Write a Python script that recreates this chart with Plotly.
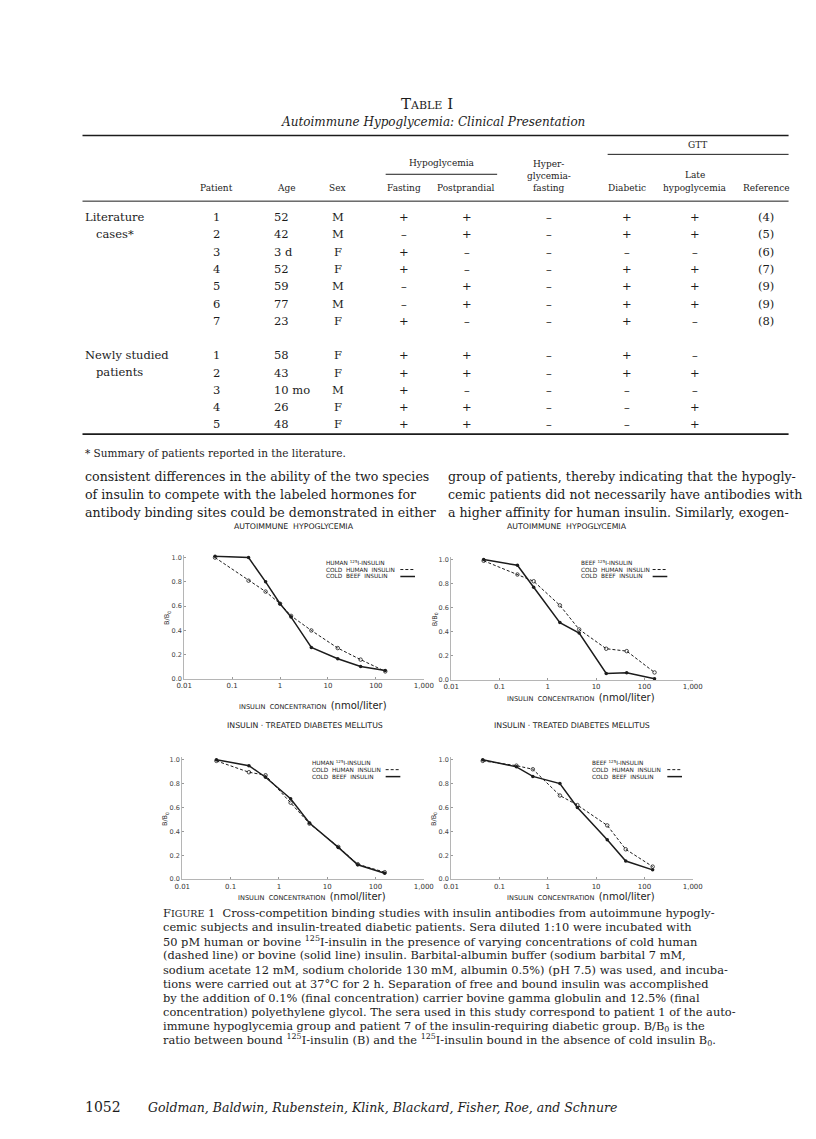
import plotly.graph_objects as go

W, H = 816, 1139
SERIF = "DejaVu Serif"
SANS = "DejaVu Sans"
INK = "#1c1c1c"

# ---- Table I ----
LIT_PATIENT = ["1", "2", "3", "4", "5", "6", "7"]
LIT_AGE = ["52", "42", "3 d", "52", "59", "77", "23"]
LIT_SEX = ["M", "M", "F", "F", "M", "M", "F"]
LIT_FASTING = ["+", "–", "+", "+", "–", "–", "+"]
LIT_POSTPRANDIAL = ["+", "+", "–", "–", "+", "+", "–"]
LIT_HYPER = ["–", "–", "–", "–", "–", "–", "–"]
LIT_DIABETIC = ["+", "+", "–", "+", "+", "+", "+"]
LIT_LATE = ["+", "+", "–", "+", "+", "+", "–"]
LIT_REF = ["(4)", "(5)", "(6)", "(7)", "(9)", "(9)", "(8)"]

NEW_PATIENT = ["1", "2", "3", "4", "5"]
NEW_AGE = ["58", "43", "10 mo", "26", "48"]
NEW_SEX = ["F", "F", "M", "F", "F"]
NEW_FASTING = ["+", "+", "+", "+", "+"]
NEW_POSTPRANDIAL = ["+", "+", "–", "+", "+"]
NEW_HYPER = ["–", "–", "–", "–", "–"]
NEW_DIABETIC = ["+", "+", "–", "–", "–"]
NEW_LATE = ["–", "+", "–", "+", "+"]
NEW_REF = [None, None, None, None, None]

# ---- Figure 1: B/B0 vs insulin concentration (nmol/liter) ----
CONC_AH_HUMAN = [0.044, 0.22, 0.5, 1.0, 1.7, 4.5, 16, 48, 157]
AH_HUMAN_COLD_HUMAN = [1.0, 0.81, 0.72, 0.62, 0.52, 0.40, 0.255, 0.16, 0.063]
AH_HUMAN_COLD_BEEF = [1.01, 1.0, 0.80, 0.62, 0.51, 0.26, 0.167, 0.104, 0.071]

CONC_AH_BEEF = [0.047, 0.235, 0.51, 1.78, 4.46, 16.2, 43, 162]
AH_BEEF_COLD_HUMAN = [0.99, 0.876, 0.82, 0.62, 0.42, 0.26, 0.24, 0.063]
AH_BEEF_COLD_BEEF = [1.0, 0.953, 0.77, 0.477, 0.39, 0.055, 0.06, 0.01]

CONC_DM_HUMAN = [0.051, 0.24, 0.53, 1.75, 4.3, 17, 43, 155]
DM_HUMAN_COLD_HUMAN = [0.99, 0.895, 0.87, 0.64, 0.465, 0.27, 0.125, 0.058]
DM_HUMAN_COLD_BEEF = [1.0, 0.95, 0.853, 0.673, 0.47, 0.266, 0.12, 0.05]

CONC_DM_BEEF = [0.045, 0.224, 0.49, 1.78, 4.1, 17, 41, 148]
DM_BEEF_COLD_HUMAN = [0.99, 0.95, 0.92, 0.70, 0.62, 0.45, 0.25, 0.105]
DM_BEEF_COLD_BEEF = [1.0, 0.94, 0.86, 0.80, 0.60, 0.33, 0.152, 0.078]

X_TICKS = [0.01, 0.1, 1, 10, 100, 1000]
X_TICKTEXT = ["0.01", "0.1", "1", "10", "100", "1,000"]


def px(x):
    return x / W


def py(y):
    return 1 - y / H


fig = go.Figure()


def text(x, y, s, size, anchor="left", family=SERIF, color=INK, angle=0):
    if not s:
        return
    fig.add_annotation(x=px(x), y=py(y), xref="paper", yref="paper", text=s,
                       showarrow=False, xanchor=anchor, yanchor="middle",
                       textangle=angle, font=dict(family=family, size=size, color=color))


def rule(x0, x1, y, width=1.0):
    fig.add_shape(type="line", xref="paper", yref="paper",
                  x0=px(x0), x1=px(x1), y0=py(y), y1=py(y),
                  line=dict(color=INK, width=width))


# --- table header ---
text(420, 95, "T<span style='font-size:11px'>ABLE</span> I", 15, "center")
text(426, 113, "<i>Autoimmune Hypoglycemia: Clinical Presentation</i>", 12, "center")
rule(68, 790, 127, 1.6)
text(697, 137, "GTT", 9, "center")
rule(605, 790, 146, 1.0)
text(436, 155, "Hypoglycemia", 9, "center")
rule(378, 492, 166, 1.0)
text(545, 156, "Hyper-", 9, "center")
text(545, 168, "glycemia-", 9, "center")
text(545, 180, "fasting", 9, "center")
text(694, 167, "Late", 9, "center")
text(694, 180, "hypoglycemia", 9, "center")
for label, cx in [("Patient", 205), ("Age", 277), ("Sex", 329), ("Fasting", 397),
                  ("Postprandial", 460), ("Diabetic", 625), ("Reference", 767)]:
    text(cx, 180, label, 9, "center")
rule(68, 790, 193, 1.0)


def table_block(y0, step, cols):
    patient, age, sex, fasting, post, hyper, diab, late, ref = cols
    for i in range(len(patient)):
        y = y0 + step * i
        text(205, y, patient[i], 11.5, "center")
        text(262, y, age[i], 11.5, "left")
        text(329, y, sex[i], 11.5, "center")
        text(397, y, fasting[i], 11.5, "center")
        text(461, y, post[i], 11.5, "center")
        text(545, y, hyper[i], 11.5, "center")
        text(625, y, diab[i], 11.5, "center")
        text(694, y, late[i], 11.5, "center")
        text(767, y, ref[i], 11.5, "center")


text(68, 209, "Literature", 11.5)
text(80, 226, "cases*", 11.5)
table_block(209, 17.4, [LIT_PATIENT, LIT_AGE, LIT_SEX, LIT_FASTING, LIT_POSTPRANDIAL,
                        LIT_HYPER, LIT_DIABETIC, LIT_LATE, LIT_REF])
text(68, 348, "Newly studied", 11.5)
text(80, 365, "patients", 11.5)
table_block(348, 17.3, [NEW_PATIENT, NEW_AGE, NEW_SEX, NEW_FASTING, NEW_POSTPRANDIAL,
                        NEW_HYPER, NEW_DIABETIC, NEW_LATE, NEW_REF])
rule(68, 790, 427, 1.6)
text(68, 446, "* Summary of patients reported in the literature.", 10.5)

# --- body text ---
LEFT_LINES = ["consistent differences in the ability of the two species",
              "of insulin to compete with the labeled hormones for",
              "antibody binding sites could be demonstrated in either"]
RIGHT_LINES = ["group of patients, thereby indicating that the hypogly-",
               "cemic patients did not necessarily have antibodies with",
               "a higher affinity for human insulin. Similarly, exogen-"]
for i, (l, r) in enumerate(zip(LEFT_LINES, RIGHT_LINES)):
    text(68, 470 + 18 * i, l, 12.6)
    text(440, 470 + 18 * i, r, 12.6)

# --- the four panels ---
PANELS = [
    dict(x0=172, x1=417, y0=673, y1=551, conc=CONC_AH_HUMAN, human=AH_HUMAN_COLD_HUMAN,
         beef=AH_HUMAN_COLD_BEEF, title="AUTOIMMUNE  HYPOGLYCEMIA", tx=284, ty=520,
         head="HUMAN <sup>125</sup>I-INSULIN", lx=315, ly=556, kx=393, xt=700),
    dict(x0=445, x1=692, y0=674, y1=553, conc=CONC_AH_BEEF, human=AH_BEEF_COLD_HUMAN,
         beef=AH_BEEF_COLD_BEEF, title="AUTOIMMUNE  HYPOGLYCEMIA", tx=563, ty=520,
         head="BEEF <sup>125</sup>I-INSULIN", lx=576, ly=556, kx=651, xt=692),
    dict(x0=170, x1=417, y0=874, y1=754, conc=CONC_DM_HUMAN, human=DM_HUMAN_COLD_HUMAN,
         beef=DM_HUMAN_COLD_BEEF, title="INSULIN · TREATED DIABETES MELLITUS", tx=296, ty=720,
         head="HUMAN <sup>125</sup>I-INSULIN", lx=301, ly=757, kx=378, xt=891),
    dict(x0=445, x1=692, y0=874, y1=754, conc=CONC_DM_BEEF, human=DM_BEEF_COLD_HUMAN,
         beef=DM_BEEF_COLD_BEEF, title="INSULIN · TREATED DIABETES MELLITUS", tx=569, ty=720,
         head="BEEF <sup>125</sup>I-INSULIN", lx=587, ly=757, kx=666, xt=891),
]

YMAX = 1.02
for k, p in enumerate(PANELS, start=1):
    xa = "x" if k == 1 else f"x{k}"
    ya = "y" if k == 1 else f"y{k}"
    top = p["y0"] - YMAX * (p["y0"] - p["y1"])
    fig.add_trace(go.Scatter(
        x=p["conc"], y=p["human"], mode="lines+markers", xaxis=xa, yaxis=ya,
        line=dict(color=INK, width=1, dash="3px,2px"),
        marker=dict(symbol="circle-open", size=3.5, color=INK, line=dict(width=0.8)),
        name="Cold human insulin", showlegend=False, cliponaxis=False))
    fig.add_trace(go.Scatter(
        x=p["conc"], y=p["beef"], mode="lines+markers", xaxis=xa, yaxis=ya,
        line=dict(color=INK, width=1.5),
        marker=dict(symbol="circle", size=3.5, color=INK),
        name="Cold beef insulin", showlegend=False, cliponaxis=False))
    fig.layout[f"xaxis{'' if k == 1 else k}"] = dict(
        type="log", range=[-2, 3], domain=[px(p["x0"]), px(p["x1"])], anchor=ya,
        tickvals=X_TICKS, ticktext=X_TICKTEXT, ticks="inside", ticklen=2,
        tickcolor="#999", showline=True, linecolor="#b5b5b5", linewidth=1,
        showgrid=False, zeroline=False,
        tickfont=dict(family=SANS, size=7, color="#333"))
    fig.layout[f"yaxis{'' if k == 1 else k}"] = dict(
        range=[0, YMAX], domain=[py(p["y0"]), py(top)], anchor=xa,
        tickvals=[0, 0.2, 0.4, 0.6, 0.8, 1.0], tickformat=".1f",
        ticks="inside", ticklen=2, tickcolor="#999", showline=True,
        linecolor="#b5b5b5", linewidth=1, showgrid=False, zeroline=False,
        tickfont=dict(family=SANS, size=6.5, color="#444"))

    text(p["tx"], p["ty"], p["title"], 7.8, "center", SANS)
    text((p["x0"] + p["x1"]) / 2 + 9, p["xt"],
         "INSULIN  CONCENTRATION  <span style='font-size:10px'>(nmol/liter)</span>",
         6.6, "center", SANS)
    text(p["x0"] - 17, (p["y0"] + p["y1"]) / 2, "B/B<sub>0</sub>", 6.5, "center", SANS, angle=-90)

    # legend block
    text(p["lx"], p["ly"], p["head"], 5.8, "left", SANS)
    text(p["lx"], p["ly"] + 7, "COLD  HUMAN  INSULIN", 5.8, "left", SANS)
    text(p["lx"], p["ly"] + 14, "COLD  BEEF  INSULIN", 5.8, "left", SANS)
    fig.add_shape(type="line", xref="paper", yref="paper",
                  x0=px(p["kx"]), x1=px(p["kx"] + 15), y0=py(p["ly"] + 7), y1=py(p["ly"] + 7),
                  line=dict(color=INK, width=1, dash="3px,2px"))
    fig.add_shape(type="line", xref="paper", yref="paper",
                  x0=px(p["kx"]), x1=px(p["kx"] + 15), y0=py(p["ly"] + 14), y1=py(p["ly"] + 14),
                  line=dict(color=INK, width=1.5))

# --- caption ---
CAPTION = [
    "F<span style='font-size:9.5px'>IGURE</span> 1  Cross-competition binding studies with insulin antibodies from autoimmune hypogly-",
    "cemic subjects and insulin-treated diabetic patients. Sera diluted 1:10 were incubated with",
    "50 pM human or bovine <sup>125</sup>I-insulin in the presence of varying concentrations of cold human",
    "(dashed line) or bovine (solid line) insulin. Barbital-albumin buffer (sodium barbital 7 mM,",
    "sodium acetate 12 mM, sodium choloride 130 mM, albumin 0.5%) (pH 7.5) was used, and incuba-",
    "tions were carried out at 37°C for 2 h. Separation of free and bound insulin was accomplished",
    "by the addition of 0.1% (final concentration) carrier bovine gamma globulin and 12.5% (final",
    "concentration) polyethylene glycol. The sera used in this study correspond to patient 1 of the auto-",
    "immune hypoglycemia group and patient 7 of the insulin-requiring diabetic group. B/B<sub>0</sub> is the",
    "ratio between bound <sup>125</sup>I-insulin (B) and the <sup>125</sup>I-insulin bound in the absence of cold insulin B<sub>0</sub>.",
]
for i, line in enumerate(CAPTION):
    text(148, 908 + 14.2 * i, line, 11.4)

# --- footer ---
text(68, 1103, "1052", 14)
text(133, 1103, "<i>Goldman, Baldwin, Rubenstein, Klink, Blackard, Fisher, Roe, and Schnure</i>", 12.5)

fig.update_layout(width=W, height=H, margin=dict(l=0, r=0, t=0, b=0),
                  paper_bgcolor="white", plot_bgcolor="white", showlegend=False)
fig.write_html("out.html")
